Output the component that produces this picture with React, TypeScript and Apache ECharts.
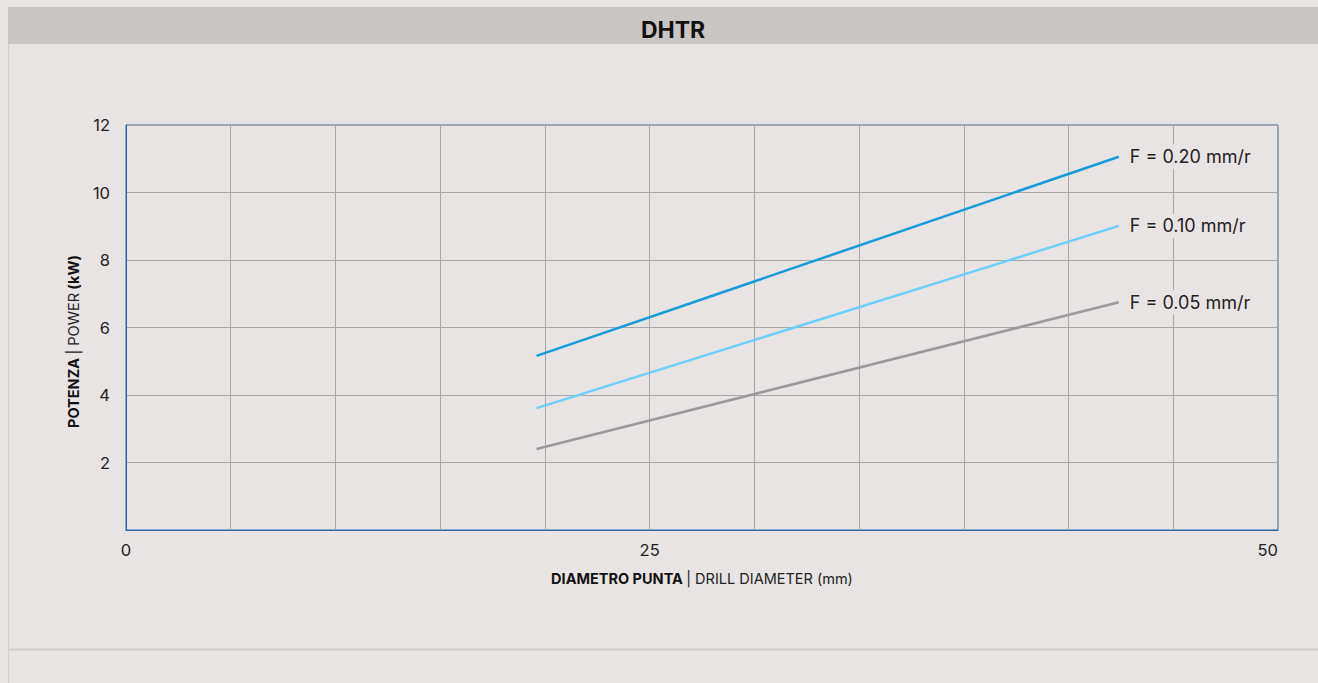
import React, { useEffect, useRef } from "react";
import * as echarts from "echarts";

const chartTitle = "DHTR";
const diameters = [19.6, 47.4];
const seriesNames = ["F = 0.20 mm/r", "F = 0.10 mm/r", "F = 0.05 mm/r"];
const f020 = [5.16, 11.06];
const f010 = [3.61, 9.01];
const f005 = [2.4, 6.75];
const seriesValues = [f020, f010, f005];
const seriesColors = ["#159bd7", "#6fcff6", "#9a9a9a"];
const xTickValues = [0, 25, 55];
const xTickTexts = ["0", "25", "50"];

const FONT = "Inter, 'Noto Sans', sans-serif";

export default function App() {
  const ref = useRef<HTMLDivElement>(null);
  useEffect(() => {
    document.body.style.margin = "0";
    document.body.style.background = "#e8e4e3";
    const chart = echarts.init(ref.current!, null, { renderer: "svg" });
    chart.setOption({
      animation: false,
      backgroundColor: "#e8e4e3",
      title: {
        text: chartTitle,
        left: 668,
        top: 13,
        textAlign: "center",
        textStyle: { fontFamily: FONT, fontWeight: "bold", fontSize: 23, color: "#111" },
      },
      graphic: [
        { type: "rect", z: -1, shape: { x: 8, y: 7, width: 1310, height: 37 }, style: { fill: "#c9c5c2" } },
        { type: "line", shape: { x1: 8.5, y1: 44, x2: 8.5, y2: 683 }, style: { stroke: "#d2cecc", lineWidth: 1 } },
        { type: "line", shape: { x1: 8, y1: 649.5, x2: 1318, y2: 649.5 }, style: { stroke: "#d2cecc", lineWidth: 2 } },
      ],
      grid: {
        left: 126,
        top: 125,
        right: 40,
        bottom: 153,
        show: true,
        borderColor: "#2c64a6",
        borderWidth: 1,
        backgroundColor: "transparent",
      },
      xAxis: {
        type: "value",
        min: 0,
        max: 55,
        interval: 5,
        name: "{b|DIAMETRO PUNTA} {r|| DRILL DIAMETER (mm)}",
        nameLocation: "middle",
        nameGap: 41,
        nameTextStyle: {
          rich: {
            b: { fontFamily: FONT, fontWeight: "bold", fontSize: 14.5, color: "#111" },
            r: { fontFamily: FONT, fontSize: 14.5, color: "#222" },
          },
        },
        axisLine: { show: true, lineStyle: { color: "#2c64a6", width: 1 } },
        axisTick: { show: false },
        splitLine: { show: true, lineStyle: { color: "#a9a7a6", width: 1 } },
        axisLabel: {
          showMinLabel: true,
          showMaxLabel: true,
          alignMaxLabel: "right",
          margin: 11,
          fontFamily: FONT,
          fontSize: 16.5,
          color: "#222",
          formatter: (v: number) => {
            const i = xTickValues.indexOf(v);
            return i >= 0 ? xTickTexts[i] : "";
          },
        },
      },
      yAxis: {
        type: "value",
        min: 0,
        max: 12,
        interval: 2,
        name: "{b|POTENZA} {r|| POWER} {b|(kW)}",
        nameLocation: "middle",
        nameGap: 45,
        nameRotate: 90,
        nameTextStyle: {
          padding: [0, 28, 0, 0],
          rich: {
            b: { fontFamily: FONT, fontWeight: "bold", fontSize: 14.5, color: "#111" },
            r: { fontFamily: FONT, fontSize: 14.5, color: "#222" },
          },
        },
        axisLine: { show: true, lineStyle: { color: "#2c64a6", width: 1 } },
        axisTick: { show: false },
        splitLine: { show: true, lineStyle: { color: "#a9a7a6", width: 1 } },
        axisLabel: {
          showMinLabel: false,
          margin: 16,
          fontFamily: FONT,
          fontSize: 16.5,
          color: "#222",
        },
      },
      series: seriesNames.map((name, si) => ({
        type: "line",
        name,
        data: diameters.map((d, i) => [d, seriesValues[si][i]]),
        showSymbol: false,
        symbol: "none",
        lineStyle: { color: seriesColors[si], width: 2.5, cap: "butt" },
        itemStyle: { color: seriesColors[si] },
        endLabel: {
          show: true,
          formatter: name,
          distance: 8,
          padding: [3, 3],
          backgroundColor: "#e8e4e3",
          fontFamily: FONT,
          fontSize: 18,
          color: "#222",
        },
      })),
    });
    return () => chart.dispose();
  }, []);
  return <div ref={ref} style={{ width: 1318, height: 683 }} />;
}
